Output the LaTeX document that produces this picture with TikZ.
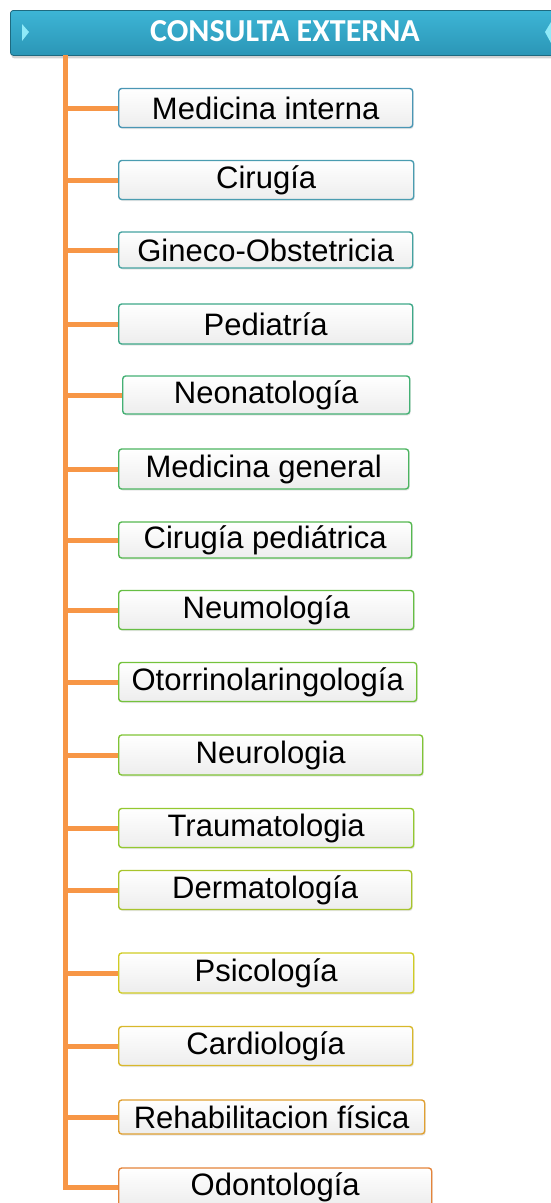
\documentclass[tikz,border=0pt]{standalone}
\usepackage{fontspec}
\setmainfont{Liberation Sans}
\newfontfamily\headfont{Carlito}
\usepackage{xcolor}
\usetikzlibrary{positioning,calc,shadows}

\definecolor{trunkorange}{HTML}{F79646}
\definecolor{headtop}{HTML}{3DB5D6}
\definecolor{headbot}{HTML}{2B96B6}
\definecolor{headedge}{HTML}{1E6A80}
\definecolor{headmark}{HTML}{8FEAF8}
\definecolor{bc1}{HTML}{4A96B4}
\definecolor{bc2}{HTML}{4A9CB0}
\definecolor{bc3}{HTML}{44A2A0}
\definecolor{bc4}{HTML}{3EA888}
\definecolor{bc5}{HTML}{44B074}
\definecolor{bc6}{HTML}{4CB460}
\definecolor{bc7}{HTML}{56B850}
\definecolor{bc8}{HTML}{66BE44}
\definecolor{bc9}{HTML}{74C23C}
\definecolor{bc10}{HTML}{80C436}
\definecolor{bc11}{HTML}{94C830}
\definecolor{bc12}{HTML}{A8C42C}
\definecolor{bc13}{HTML}{D0CC24}
\definecolor{bc14}{HTML}{D8B82C}
\definecolor{bc15}{HTML}{E0A032}
\definecolor{bc16}{HTML}{E4843A}

\begin{document}
\begin{tikzpicture}[
    x=1pt, y=-1pt,
    svcbox/.style={draw=#1, line width=1.4pt, rounded corners=3pt,
      top color=white, bottom color=gray!14, anchor=west,
      minimum height=39pt, inner sep=0pt,
      font=\fontsize{31}{33}\selectfont,
      drop shadow={opacity=0.2, shadow xshift=1pt, shadow yshift=-1.5pt}},
    headbox/.style={draw=headedge, line width=0.8pt, rounded corners=3pt,
      top color=headtop, bottom color=headbot, anchor=north west,
      minimum width=560pt, minimum height=45pt, inner sep=0pt,
      drop shadow={opacity=0.35, shadow xshift=1pt, shadow yshift=-3pt}},
    branch/.style={trunkorange, line width=5pt},
  ]
  \useasboundingbox (0,0) rectangle (551,1203);

  % header bar
  \node[headbox] (head) at (10,10) {};
  \node[font=\headfont\bfseries\fontsize{32}{34}\selectfont, text=white]
    (headtext) at (285,31) {CONSULTA EXTERNA};
  \fill[headmark] (22,24) -- (29,32) -- (22,41) -- cycle;
  \fill[headmark] (551,22) -- (545,32) -- (551,43) -- cycle;

  % services
  \node[svcbox=bc1,  minimum width=294pt] (medint)  at (118,108)  {Medicina interna};
  \node[svcbox=bc2,  minimum width=295pt] (cirug)   at (118,180)  {Cirugía};
  \node[svcbox=bc3,  minimum width=294pt, minimum height=36pt] (gineco) at (118,250) {Gineco-Obstetricia};
  \node[svcbox=bc4,  minimum width=294pt, minimum height=40pt] (pedia)  at (118,324) {Pediatría};
  \node[svcbox=bc5,  minimum width=287pt, minimum height=38pt] (neonat) at (122,395) {Neonatología};
  \node[svcbox=bc6,  minimum width=290pt, minimum height=40pt] (medgen) at (118,469) {Medicina general};
  \node[svcbox=bc7,  minimum width=293pt, minimum height=36pt] (cirped) at (118,540) {Cirugía pediátrica};
  \node[svcbox=bc8,  minimum width=295pt] (neumo)   at (118,610)  {Neumología};
  \node[svcbox=bc9,  minimum width=298pt] (otorr)   at (118,682)  {Otorrinolaringología};
  \node[svcbox=bc10, minimum width=304pt, minimum height=40pt] (neuro)  at (118,755) {Neurologia};
  \node[svcbox=bc11, minimum width=295pt] (trauma)  at (118,828)  {Traumatologia};
  \node[svcbox=bc12, minimum width=293pt] (derma)   at (118,890)  {Dermatología};
  \node[svcbox=bc13, minimum width=295pt, minimum height=40pt] (psico)  at (118,973) {Psicología};
  \node[svcbox=bc14, minimum width=294pt] (cardio)  at (118,1046) {Cardiología};
  \node[svcbox=bc15, minimum width=306pt, minimum height=34pt] (rehab)  at (118,1117) {Rehabilitacion física};
  \node[svcbox=bc16, minimum width=313pt, minimum height=38pt] (odonto) at (118,1187) {Odontología};

  % trunk and branches
  \coordinate (trunktop) at (65,55);
  \draw[branch] (trunktop) |- (odonto.west);
  \foreach \n in {medint,cirug,gineco,pedia,neonat,medgen,cirped,neumo,
                  otorr,neuro,trauma,derma,psico,cardio,rehab}
    \draw[branch] (trunktop |- \n.west) -- (\n.west);
\end{tikzpicture}
\end{document}
